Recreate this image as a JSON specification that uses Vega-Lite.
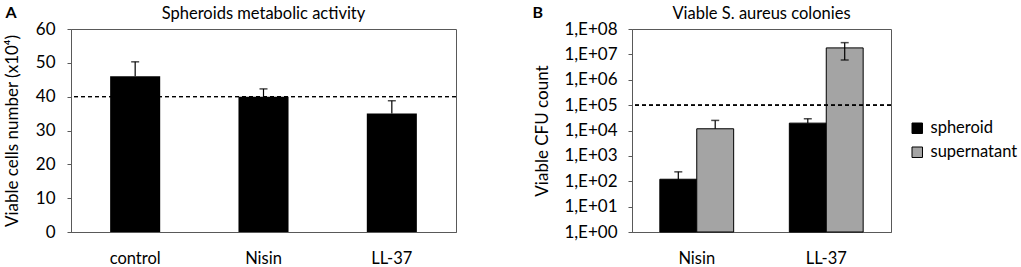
{
  "$schema": "https://vega.github.io/schema/vega-lite/v6.json",
  "padding": {"left": 2, "top": 3, "right": 0, "bottom": 0},
  "config": {
    "font": "Lato",
    "view": {"stroke": "#595959", "strokeWidth": 1},
    "axis": {"domainColor": "#595959", "tickColor": "#595959", "labelColor": "#000000", "titleColor": "#000000", "labelFont": "Lato", "titleFont": "Lato", "labelFontSize": 17, "titleFontSize": 17, "titleFontWeight": "normal", "grid": false, "labelOverlap": false},
    "title": {"font": "Lato", "fontSize": 16.5, "fontWeight": "normal", "color": "#000000", "offset": -18},
    "concat": {"spacing": 74}
  },
  "datasets": {
    "cells": [
      {"group": "control", "value": 46, "hi": 50.3},
      {"group": "Nisin", "value": 40, "hi": 42.3},
      {"group": "LL-37", "value": 35, "hi": 38.8}
    ],
    "cfu": [
      {"group": "Nisin", "series": "spheroid", "value": 120, "lo": 120, "hi": 235},
      {"group": "Nisin", "series": "supernatant", "value": 11700, "lo": 11700, "hi": 25000},
      {"group": "LL-37", "series": "spheroid", "value": 19500, "lo": 19500, "hi": 29000},
      {"group": "LL-37", "series": "supernatant", "value": 18000000, "lo": 6000000, "hi": 29000000}
    ]
  },
  "hconcat": [
    {
      "width": 385,
      "height": 203,
      "title": {"text": "Spheroids metabolic activity"},
      "data": {"name": "cells"},
      "resolve": {"axis": {"x": "independent"}},
      "layer": [
        {
          "mark": {"type": "bar", "color": "#000000"},
          "encoding": {
            "x": {"field": "group", "type": "nominal", "sort": null, "scale": {"paddingInner": 0.61, "paddingOuter": 0.305},
                  "axis": {"title": null, "labelAngle": 0, "ticks": false, "labelPadding": 18, "labelFontSize": 16.5}},
            "y": {"field": "value", "type": "quantitative", "scale": {"domain": [0, 60], "nice": false},
                  "axis": {"values": [0, 10, 20, 30, 40, 50, 60], "tickCount": 7, "labelOverlap": false, "title": "Viable cells number (x10⁴)", "tickSize": 4, "labelPadding": 12, "titlePadding": 14}}
          }
        },
        {
          "mark": {"type": "rule", "color": "#000000", "strokeWidth": 1.2},
          "encoding": {
            "x": {"field": "group", "type": "nominal", "sort": null, "axis": null},
            "y": {"field": "value", "type": "quantitative",
                  "axis": {"values": [0, 10, 20, 30, 40, 50, 60], "tickCount": 7, "labelOverlap": false, "title": "Viable cells number (x10⁴)", "tickSize": 4, "labelPadding": 12, "titlePadding": 14}},
            "y2": {"field": "hi"}
          }
        },
        {
          "mark": {"type": "tick", "color": "#000000", "size": 8, "thickness": 1.5},
          "encoding": {
            "x": {"field": "group", "type": "nominal", "sort": null,
                  "axis": {"orient": "top", "labels": false, "ticks": false, "domain": false, "title": "A", "titleX": -66, "titleY": -12, "titleAngle": 0, "titleAlign": "left", "titleBaseline": "alphabetic", "titleFontWeight": "bold", "titleFontSize": 16}},
            "y": {"field": "hi", "type": "quantitative",
                  "axis": {"values": [0, 10, 20, 30, 40, 50, 60], "tickCount": 7, "labelOverlap": false, "title": "Viable cells number (x10⁴)", "tickSize": 4, "labelPadding": 12, "titlePadding": 14}}
          }
        },
        {
          "mark": {"type": "rule", "color": "#000000", "strokeDash": [4, 3], "strokeWidth": 1},
          "encoding": {"y": {"datum": 40, "type": "quantitative",
                  "axis": {"values": [0, 10, 20, 30, 40, 50, 60], "tickCount": 7, "labelOverlap": false, "title": "Viable cells number (x10⁴)", "tickSize": 4, "labelPadding": 12, "titlePadding": 14}}}
        }
      ]
    },
    {
      "width": 259,
      "height": 203,
      "title": {"text": "Viable S. aureus colonies"},
      "data": {"name": "cfu"},
      "resolve": {"axis": {"x": "independent"}},
      "layer": [
        {
          "mark": {"type": "bar", "stroke": "#000000", "strokeWidth": 1},
          "encoding": {
            "x": {"field": "group", "type": "nominal", "sort": null, "scale": {"paddingInner": 0.43, "paddingOuter": 0.215},
                  "axis": {"title": null, "labelAngle": 0, "ticks": false, "labelPadding": 18, "labelFontSize": 16.5}},
            "xOffset": {"field": "series", "type": "nominal", "sort": null, "scale": {"paddingInner": 0, "paddingOuter": 0}},
            "y": {"field": "value", "type": "quantitative", "scale": {"type": "log", "domain": [1, 100000000]},
                  "axis": {"values": [1, 10, 100, 1000, 10000, 100000, 1000000, 10000000, 100000000], "labelOverlap": false, "labelExpr": "'1,E+0' + round(log(datum.value) / LN10)", "title": "Viable CFU count", "tickSize": 4, "labelPadding": 11, "titlePadding": 12}},
            "y2": {"datum": 1},
            "color": {"field": "series", "type": "nominal", "sort": null,
                      "scale": {"domain": ["spheroid", "supernatant"], "range": ["#000000", "#a4a4a4"]},
                      "legend": {"title": null, "orient": "none", "legendX": 838, "legendY": 91, "symbolType": "square", "symbolSize": 110, "symbolStrokeColor": "#000000", "symbolStrokeWidth": 1, "labelFontSize": 16.5, "labelFont": "Lato", "labelColor": "#000000", "rowPadding": 7, "labelOffset": 5, "padding": 0}}
          }
        },
        {
          "mark": {"type": "rule", "color": "#000000", "strokeWidth": 1.2},
          "encoding": {
            "x": {"field": "group", "type": "nominal", "sort": null, "axis": null},
            "xOffset": {"field": "series", "type": "nominal", "sort": null},
            "y": {"field": "lo", "type": "quantitative"},
            "y2": {"field": "hi"}
          }
        },
        {
          "mark": {"type": "tick", "color": "#000000", "size": 8, "thickness": 1.5},
          "encoding": {
            "x": {"field": "group", "type": "nominal", "sort": null,
                  "axis": {"orient": "top", "labels": false, "ticks": false, "domain": false, "title": "B", "titleX": -100, "titleY": -12, "titleAngle": 0, "titleAlign": "left", "titleBaseline": "alphabetic", "titleFontWeight": "bold", "titleFontSize": 16}},
            "xOffset": {"field": "series", "type": "nominal", "sort": null},
            "y": {"field": "hi", "type": "quantitative"}
          }
        },
        {
          "transform": [{"filter": "datum.lo < datum.value"}],
          "mark": {"type": "tick", "color": "#000000", "size": 8, "thickness": 1.5},
          "encoding": {
            "x": {"field": "group", "type": "nominal", "sort": null, "axis": null},
            "xOffset": {"field": "series", "type": "nominal", "sort": null},
            "y": {"field": "lo", "type": "quantitative"}
          }
        },
        {
          "mark": {"type": "rule", "color": "#000000", "strokeDash": [4, 3], "strokeWidth": 1},
          "encoding": {"y": {"datum": 100000, "type": "quantitative"}}
        }
      ]
    }
  ]
}
